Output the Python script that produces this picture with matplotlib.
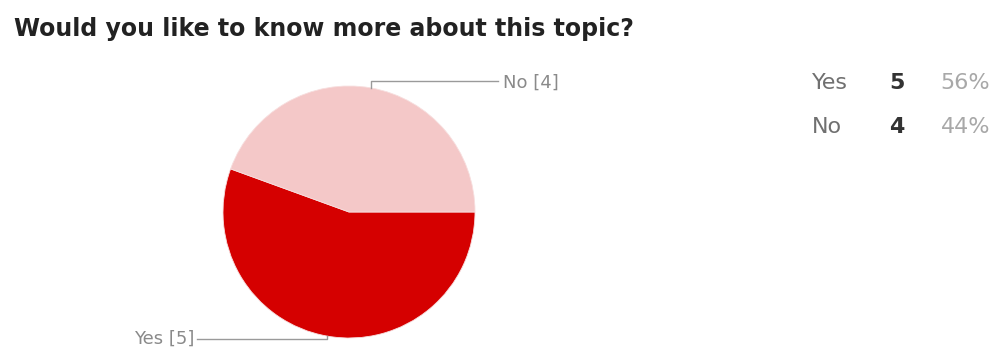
import numpy as np
import matplotlib.pyplot as plt

title = "Would you like to know more about this topic?"
answers = ["Yes", "No"]
counts = [5, 4]
colors = ["#d50000", "#f4c8c8"]

W, H = 994, 354
fig = plt.figure(figsize=(W / 100, H / 100), dpi=100)
ax = fig.add_axes([0, 0, 1, 1])

# pie geometry in pixel space (y measured up from bottom)
cx, cy, r = 349, H - 212, 126

wedges, _ = ax.pie(counts, colors=colors, startangle=0, counterclock=False,
                   center=(cx, cy), radius=r,
                   wedgeprops=dict(linewidth=0.6, edgecolor="#f7dede"))
ax.set_xlim(0, W)
ax.set_ylim(0, H)
ax.set_aspect("equal")
ax.axis("off")

# leader lines from each wedge's mid angle
lc = "#9a9a9a"
for w, name, n in zip(wedges, answers, counts):
    mid = np.deg2rad((w.theta1 + w.theta2) / 2)
    px, py = cx + r * np.cos(mid), cy + r * np.sin(mid)
    if py > cy:
        ly = py + 7
        ax.plot([px, px, px + 127], [py, ly, ly], color=lc, lw=1)
        ax.text(px + 132, ly - 2, f"{name} [{n}]", color="#8a8a8a",
                fontsize=13, va="center", ha="left")
    else:
        ly = py - 3
        ax.plot([px, px, px - 130], [py, ly, ly], color=lc, lw=1)
        ax.text(px - 133, ly, f"{name} [{n}]", color="#8a8a8a",
                fontsize=13, va="center", ha="right")

fig.text(14 / W, 1 - 29 / H, title, fontsize=17, fontweight="bold",
         color="#222222", va="center", ha="left")

# summary table
total = sum(counts)
for i, (name, n) in enumerate(zip(answers, counts)):
    y = 1 - (83 + i * 44) / H
    fig.text(812 / W, y, name, fontsize=16, color="#707070",
             va="center", ha="left")
    fig.text(897 / W, y, str(n), fontsize=16, fontweight="bold",
             color="#333333", va="center", ha="center")
    fig.text(990 / W, y, f"{round(100 * n / total)}%", fontsize=16,
             color="#a8a8a8", va="center", ha="right")

fig.savefig("out.png", dpi=100, facecolor="white")
